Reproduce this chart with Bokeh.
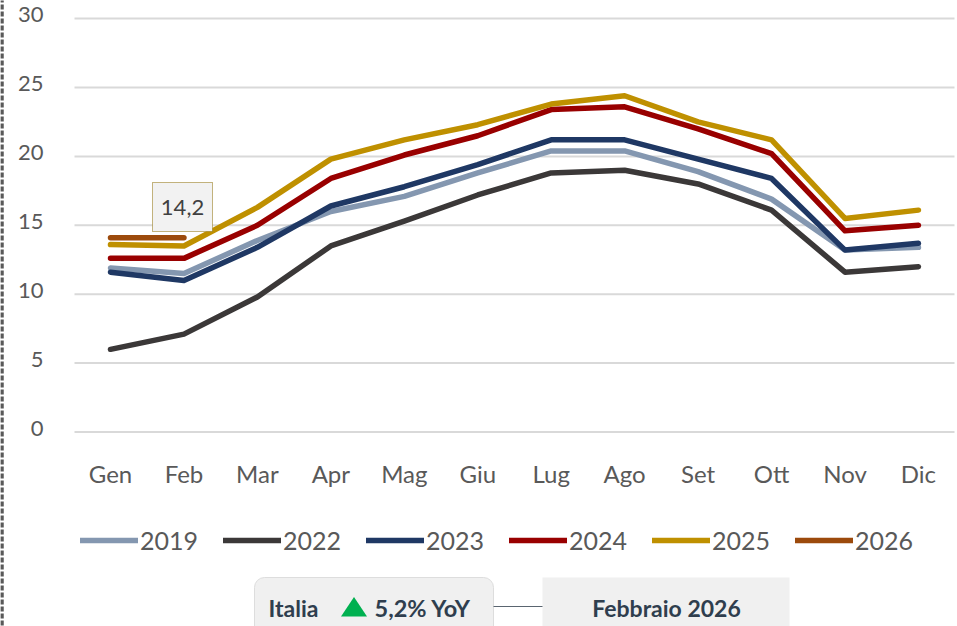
from bokeh.plotting import figure
from bokeh.embed import file_html
from bokeh.resources import INLINE
from bokeh.models import (FixedTicker, Legend, LegendItem, Label, BoxAnnotation, PolyAnnotation, Range1d)

months = ["Gen","Feb","Mar","Apr","Mag","Giu","Lug","Ago","Set","Ott","Nov","Dic"]
y2019 = [11.9,11.5,13.9,16.0,17.1,18.8,20.4,20.4,18.9,16.9,13.2,13.4]
y2022 = [6.0,7.1,9.8,13.5,15.3,17.2,18.8,19.0,18.0,16.1,11.6,12.0]
y2023 = [11.6,11.0,13.4,16.4,17.8,19.4,21.2,21.2,19.8,18.4,13.2,13.7]
y2024 = [12.6,12.6,15.0,18.4,20.1,21.5,23.4,23.6,22.0,20.2,14.6,15.0]
y2025 = [13.6,13.5,16.3,19.8,21.2,22.3,23.8,24.4,22.5,21.2,15.5,16.1]
y2026 = [14.1,14.1]
series = [("2019",y2019,"#8497B0"),("2022",y2022,"#3B3838"),("2023",y2023,"#1F3864"),
          ("2024",y2024,"#990000"),("2025",y2025,"#BF9000"),("2026",y2026,"#9C4A0C")]
yticks = [0,5,10,15,20,25,30]
FONT = "Lato"
TXT = "#595959"

W, H = 957, 626
X0, DX = 110.0, 73.45     # pixel of first month, pixels per month
Y0, DY = 431.5, 13.78     # pixel of zero, pixels per unit
LABEL_LIFT = 0.29         # tick labels sit slightly above their gridlines

p = figure(width=W, height=H, output_backend="svg", toolbar_location=None,
           x_range=Range1d(-X0/DX, (W-X0)/DX), y_range=Range1d(-(H-Y0)/DY, Y0/DY),
           min_border_left=0, min_border_right=0, min_border_top=0, min_border_bottom=0,
           margin=(0,0,0,0))
p.outline_line_color = None
p.background_fill_color = "white"
p.grid.visible = False

p.segment([(74-X0)/DX]*len(yticks), yticks, [(954-X0)/DX]*len(yticks), yticks,
          line_color="#D9D9D9", line_width=2)

lifted = [t + LABEL_LIFT for t in yticks]
p.yaxis.ticker = FixedTicker(ticks=lifted)
p.yaxis.major_label_overrides = {l: str(t) for l, t in zip(lifted, yticks)}
p.xaxis.ticker = FixedTicker(ticks=list(range(12)))
p.xaxis.major_label_overrides = {i:m for i,m in enumerate(months)}
p.xaxis.fixed_location = 0
p.yaxis.fixed_location = (74-X0)/DX
for ax in (p.xaxis[0], p.yaxis[0]):
    ax.axis_line_color = None
    ax.major_tick_line_color = None
    ax.minor_tick_line_color = None
    ax.major_label_text_font = FONT
    ax.major_label_text_color = TXT
p.yaxis.major_label_text_font_size = "22px"
p.xaxis.major_label_text_font_size = "24px"
p.yaxis.major_label_standoff = 25
p.xaxis.major_label_standoff = 21

items = []
for name, vals, col in series:
    r = p.line(list(range(len(vals))), vals, line_color=col, line_width=5.5,
               line_cap="round", line_join="round")
    items.append(LegendItem(label=name, renderers=[r]))

leg = Legend(items=items, orientation="horizontal", location=(80,71),
             label_text_font=FONT, label_text_font_size="25px", label_text_color=TXT,
             glyph_width=58, glyph_height=20, spacing=25, padding=5, margin=0,
             label_standoff=2, border_line_color=None, background_fill_alpha=0)
p.add_layout(leg, "center")

cu = dict(left_units="canvas",right_units="canvas",top_units="canvas",bottom_units="canvas")
# data label box
p.add_layout(BoxAnnotation(left=152,right=212,top=182,bottom=231,**cu,
    fill_color="#F2F2F2",fill_alpha=1,line_color="#8C6D00",line_alpha=1,line_width=1,line_dash="1 1"))
p.add_layout(Label(x=182,y=207,x_units="canvas",y_units="canvas",text="14,2",text_align="center",text_baseline="middle",
    text_font=FONT,text_font_size="22px",text_color="#404040"))

# bottom panels
p.add_layout(BoxAnnotation(left=254,right=493,top=577,bottom=660,**cu,
    fill_color="#F0F0F0",fill_alpha=1,line_color="#DDDDDD",line_alpha=1,line_width=1,border_radius=10))
p.add_layout(BoxAnnotation(left=542,right=789,top=577,bottom=660,**cu,
    fill_color="#F0F0F0",fill_alpha=1,line_color=None))
p.add_layout(PolyAnnotation(xs=[493,542],ys=[606,606],xs_units="canvas",ys_units="canvas",
    line_color="#5A6570",line_alpha=1,line_width=1,fill_alpha=0))
p.add_layout(PolyAnnotation(xs=[340.5,366.5,353.5],ys=[616,616,596.5],xs_units="canvas",ys_units="canvas",
    line_color=None,fill_color="#00B050",fill_alpha=1))
PANEL = "#2F3E4E"
for x,t,al,fs in [(268,"Italia","left","23px"),(374,"5,2% YoY","left","23.5px"),(666,"Febbraio 2026","center","23px")]:
    p.add_layout(Label(x=x,y=607,x_units="canvas",y_units="canvas",text=t,text_align=al,text_baseline="middle",
        text_font=FONT,text_font_size=fs,text_font_style="bold",text_color=PANEL))

# dashed frame edge at left
p.add_layout(PolyAnnotation(xs=[1.5,1.5],ys=[-3,630],xs_units="canvas",ys_units="canvas",
    line_color="#595959",line_alpha=1,line_width=3.5,line_dash="5 2",fill_alpha=0))

open("out.html","w").write(file_html(p, INLINE))
